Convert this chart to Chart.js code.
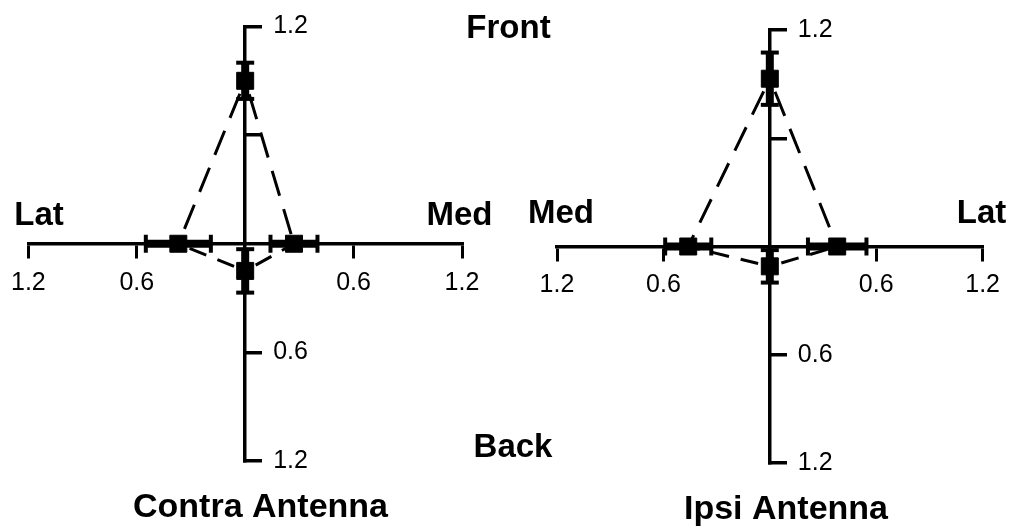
<!DOCTYPE html>
<html>
<head>
<meta charset="utf-8">
<title>Contra / Ipsi Antenna</title>
<script src="https://cdn.jsdelivr.net/npm/chart.js@4.4.1/dist/chart.umd.min.js"></script>
<style>
  html, body { margin: 0; padding: 0; background: #fff; }
  #wrap { position: relative; width: 1011px; height: 527px; }
  #wrap canvas { position: absolute; left: 0; top: 0; }
</style>
</head>
<body>
<div id="wrap">
  <canvas id="contra" width="1011" height="527"></canvas>
  <canvas id="ipsi" width="1011" height="527"></canvas>
</div>
<script>
// Mean response in each stimulus direction, with its error
const directions = ['Front', 'Lat', 'Med', 'Back'];
const contraValues = [0.90, 0.37, 0.27, 0.15];
const contraErrors = [0.10, 0.18, 0.13, 0.12];
const ipsiValues = [0.93, 0.38, 0.46, 0.11];
const ipsiErrors = [0.145, 0.165, 0.13, 0.09];

// Axis ticks: both axes read outward from the centre (1.2 .. 0 .. 1.2)
const xTickValues = [-1.2, -0.6, 0.6, 1.2];
const xTickLabels = ['1.2', '0.6', '0.6', '1.2'];
const yTickValues = [-1.2, -0.6, 0.6, 1.2];
const yTickLabels = ['1.2', '0.6', '', '1.2'];
const axisLimit = 1.2;

const FONT = '"Liberation Sans", Arial, Helvetica, sans-serif';
Chart.defaults.font.family = FONT;
Chart.defaults.color = '#000';

// Place each direction on the cross: Front up, Back down, Lat/Med left or right
function pointFor(dir, v, latSide) {
  switch (dir) {
    case 'Front': return { x: 0, y: v };
    case 'Back':  return { x: 0, y: -v };
    case 'Lat':   return { x: latSide * v, y: 0 };
    case 'Med':   return { x: -latSide * v, y: 0 };
  }
}

// Radial error bars with caps
const errorBarPlugin = {
  id: 'errorBars',
  beforeDatasetsDraw(chart, args, opts) {
    const { ctx, scales: { x, y } } = chart;
    ctx.save();
    ctx.strokeStyle = '#000';
    ctx.lineCap = 'butt';
    chart.data.datasets.forEach(ds => {
      if (!ds.errors) return;
      ds.data.forEach((p, i) => {
        const e = ds.errors[i];
        const vertical = p.x === 0;
        let a, b;
        if (vertical) {
          const px = x.getPixelForValue(p.x);
          a = [px, y.getPixelForValue(p.y - e)];
          b = [px, y.getPixelForValue(p.y + e)];
        } else {
          const py = y.getPixelForValue(p.y);
          a = [x.getPixelForValue(p.x - e), py];
          b = [x.getPixelForValue(p.x + e), py];
        }
        ctx.lineWidth = opts.barWidth;
        ctx.beginPath();
        ctx.moveTo(a[0], a[1]);
        ctx.lineTo(b[0], b[1]);
        ctx.stroke();
        ctx.lineWidth = opts.capWidth;
        const h = opts.capLength / 2;
        [a, b].forEach(c => {
          ctx.beginPath();
          if (vertical) { ctx.moveTo(c[0] - h, c[1]); ctx.lineTo(c[0] + h, c[1]); }
          else { ctx.moveTo(c[0], c[1] - h); ctx.lineTo(c[0], c[1] + h); }
          ctx.stroke();
        });
      });
    });
    ctx.restore();
  }
};

// Tick labels of the vertical axis, written to the right of its tick marks
const yLabelPlugin = {
  id: 'yLabels',
  afterDraw(chart, args, opts) {
    const { ctx, scales: { x, y } } = chart;
    ctx.save();
    ctx.fillStyle = '#000';
    ctx.font = `${opts.size}px ${FONT}`;
    ctx.textAlign = 'left';
    ctx.textBaseline = 'middle';
    const left = x.getPixelForValue(0) + opts.offset;
    yTickValues.forEach((v, i) => {
      if (yTickLabels[i]) ctx.fillText(yTickLabels[i], left, y.getPixelForValue(v));
    });
    ctx.restore();
  }
};

// Direction names and panel title
const panelTextPlugin = {
  id: 'panelText',
  afterDraw(chart, args, opts) {
    const ctx = chart.ctx;
    ctx.save();
    ctx.fillStyle = '#000';
    ctx.textAlign = 'center';
    ctx.textBaseline = 'alphabetic';
    (opts.items || []).forEach(t => {
      ctx.font = `bold ${t.size}px ${FONT}`;
      ctx.fillText(t.text, t.x, t.y);
    });
    ctx.restore();
  }
};

// A dashed connector that leaves a clear gap next to the Front/Back marker
function connector(from, to, dash, gap) {
  return {
    data: [from, to],
    showLine: true,
    borderColor: '#000',
    borderWidth: 3,
    borderDash: [dash, gap],
    borderDashOffset: dash,
    pointRadius: 0,
    fill: false
  };
}

function makePanel(id, values, errors, latSide, padding, texts) {
  const pts = {};
  directions.forEach((d, i) => { pts[d] = pointFor(d, values[i], latSide); });
  const markers = directions.map(d => pts[d]);

  return new Chart(document.getElementById(id), {
    type: 'scatter',
    data: {
      datasets: [
        connector(pts.Front, pts.Lat, 26, 14),
        connector(pts.Front, pts.Med, 26, 14),
        connector(pts.Back, pts.Lat, 18, 12),
        connector(pts.Back, pts.Med, 18, 12),
        {
          data: markers,
          errors: errors,
          pointStyle: 'rect',
          pointRadius: 12,
          pointBackgroundColor: '#000',
          pointBorderColor: '#000',
          pointBorderWidth: 1
        }
      ]
    },
    options: {
      responsive: false,
      animation: false,
      events: [],
      layout: { padding },
      scales: {
        x: {
          type: 'linear',
          min: -axisLimit,
          max: axisLimit,
          position: { y: 0 },
          afterBuildTicks: s => { s.ticks = xTickValues.map(v => ({ value: v })); },
          ticks: {
            callback: (v, i) => xTickLabels[i],
            font: { size: 25 },
            color: '#000',
            padding: 11,
            maxRotation: 0,
            autoSkip: false
          },
          grid: { drawOnChartArea: false, drawTicks: true, tickLength: 13, lineWidth: 3, color: '#000' },
          border: { display: true, width: 3.5, color: '#000' }
        },
        y: {
          type: 'linear',
          min: -axisLimit,
          max: axisLimit,
          position: { x: 0 },
          afterBuildTicks: s => { s.ticks = yTickValues.map(v => ({ value: v })); },
          ticks: { display: false },
          grid: { drawOnChartArea: false, drawTicks: true, tickLength: -19, lineWidth: 3.5, color: '#000' },
          border: { display: true, width: 3.5, color: '#000' }
        }
      },
      plugins: {
        legend: { display: false },
        title: { display: false },
        tooltip: { enabled: false },
        errorBars: { barWidth: 8, capWidth: 4, capLength: 18 },
        yLabels: { size: 25, offset: 28 },
        panelText: { items: texts }
      }
    },
    plugins: [errorBarPlugin, yLabelPlugin, panelTextPlugin]
  });
}

makePanel('contra', contraValues, contraErrors, -1,
  { left: 26, right: 549, top: 26.5, bottom: 66 },
  [
    { text: 'Lat', x: 39, y: 225, size: 33 },
    { text: 'Med', x: 459.5, y: 225, size: 33 },
    { text: 'Front', x: 508.5, y: 38, size: 33 },
    { text: 'Back', x: 513, y: 457, size: 33 },
    { text: 'Contra Antenna', x: 260.5, y: 517, size: 34 }
  ]);

makePanel('ipsi', ipsiValues, ipsiErrors, 1,
  { left: 557, right: 18, top: 30, bottom: 64 },
  [
    { text: 'Med', x: 561, y: 223, size: 33 },
    { text: 'Lat', x: 981.5, y: 223, size: 33 },
    { text: 'Ipsi Antenna', x: 786, y: 519, size: 34 }
  ]);
</script>
</body>
</html>
